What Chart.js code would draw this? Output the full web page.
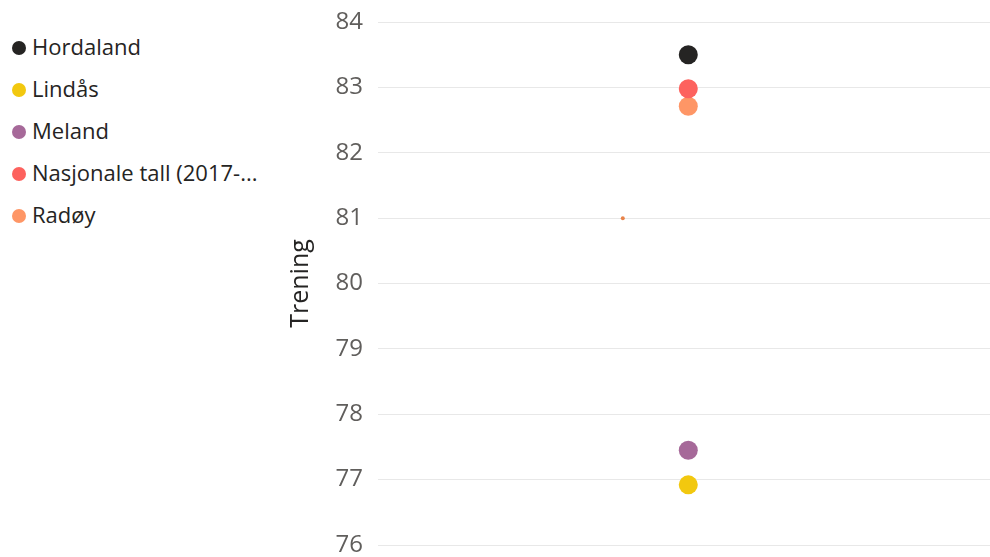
<!DOCTYPE html>
<html>
<head>
<meta charset="utf-8">
<script src="https://cdn.jsdelivr.net/npm/chart.js@4/dist/chart.umd.min.js"></script>
<style>
  html, body { margin: 0; padding: 0; background: #fff; width: 990px; height: 557px; overflow: hidden; }
  #legend { position: absolute; left: 0; top: 0; width: 280px; font-family: "Open Sans", sans-serif; font-size: 22px; color: #252423; }
  .item { position: absolute; left: 12px; height: 28px; line-height: 28px; white-space: nowrap; }
  .dot { display: inline-block; width: 14px; height: 14px; border-radius: 50%; margin-right: 6px; vertical-align: 0px; }
  #wrap { position: absolute; left: 280px; top: 0; width: 710px; height: 557px; }
</style>
</head>
<body>
<div id="legend"></div>
<div id="wrap"><canvas id="c"></canvas></div>
<script>
const seriesNames = ['Hordaland', 'Lindås', 'Meland', 'Nasjonale tall (2017-...', 'Radøy'];
const seriesValues = [83.5, 76.92, 77.45, 82.98, 82.71];
const seriesColors = ['#252423', '#F2C80F', '#A66999', '#FD625E', '#FE9666'];
const markerX = 0.507;
const extraPointX = [0.4];
const extraPointY = [81];
const yTicks = [76, 77, 78, 79, 80, 81, 82, 83, 84];
const yTitle = 'Trening';

const legend = document.getElementById('legend');
seriesNames.forEach((n, i) => {
  const d = document.createElement('div');
  d.className = 'item';
  d.style.top = (32 + i * 42) + 'px';
  d.innerHTML = '<span class="dot" style="background:' + seriesColors[i] + '"></span>' + n;
  legend.appendChild(d);
});

const datasets = seriesNames.map((n, i) => ({
  label: n,
  data: [{ x: markerX, y: seriesValues[i] }],
  backgroundColor: seriesColors[i],
  borderColor: seriesColors[i],
  pointRadius: 9.5,
  pointHoverRadius: 9.5,
  borderWidth: 0
}));
datasets.push({
  label: 'extra',
  data: extraPointX.map((x, i) => ({ x: x, y: extraPointY[i] })),
  backgroundColor: '#E8834A',
  borderColor: '#E8834A',
  pointRadius: 2,
  borderWidth: 0
});

new Chart(document.getElementById('c'), {
  type: 'scatter',
  data: { datasets },
  options: {
    responsive: true,
    maintainAspectRatio: false,
    animation: false,
    layout: { autoPadding: false, padding: { top: 22, bottom: 12, right: 0, left: 0 } },
    plugins: { legend: { display: false }, tooltip: { enabled: false } },
    scales: {
      x: { type: 'linear', min: 0, max: 1, display: false },
      y: {
        min: 76, max: 84,
        afterBuildTicks: (s) => { s.ticks = yTicks.map(v => ({ value: v })); },
        afterFit: (s) => { s.width = 98; s.paddingTop = 0; s.paddingBottom = 0; },
        border: { display: false },
        grid: { color: '#E8E8E8', lineWidth: 1, drawTicks: false },
        ticks: { color: '#605E5C', padding: 15, font: { family: 'Open Sans', size: 24 } },
        title: { display: true, text: yTitle, color: '#252423', padding: { top: 6, bottom: 0 }, font: { family: 'Open Sans', size: 25 } }
      }
    }
  }
});
</script>
</body>
</html>
